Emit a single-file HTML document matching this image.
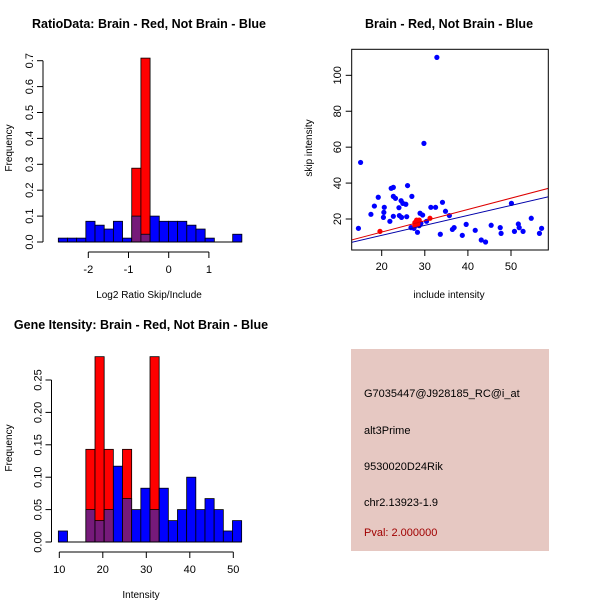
<!DOCTYPE html>
<html><head><meta charset="utf-8"><style>
body{margin:0;background:#fff}
svg{display:block;font-family:"Liberation Sans",Arial,sans-serif}
</style></head><body>
<svg id="chart" width="600" height="600" viewBox="0 0 600 600">
<rect width="600" height="600" fill="#fff"/>
<g id="p1"></g>
<g id="p2"></g>
<g id="p3"></g>
<g id="p4">
<rect x="351" y="349" width="198" height="202" fill="#e6c8c2"/>
<text x="364" y="397" font-size="11" fill="#000">G7035447@J928185_RC@i_at</text>
<text x="364" y="434" font-size="11" fill="#000">alt3Prime</text>
<text x="364" y="470" font-size="11" fill="#000">9530020D24Rik</text>
<text x="364" y="506" font-size="11" fill="#000">chr2.13923-1.9</text>
<text x="364" y="536" font-size="11" fill="#a00000">Pval: 2.000000</text>
</g>
</svg>
<script>
// Panel 1 data
const ratioBreakStart = -2.746, ratioBinWidth = 0.2283;
const ratioBlue = [0.015,0.015,0.015,0.08,0.065,0.05,0.08,0.015,0.1,0.03,0.1,0.08,0.08,0.08,0.065,0.05,0.015,0,0,0.03];
const ratioRed  = [0,0,0,0,0,0,0,0,0.285,0.71,0,0,0,0,0,0,0,0,0,0];
const ratioXTicks = [-2,-1,0,1];
const ratioYTicks = ["0.0","0.1","0.2","0.3","0.4","0.5","0.6","0.7"];
// Panel 3 data
const intBreakStart = 9.78, intBinWidth = 2.107;
const intBlue = [0.017,0,0,0.05,0.033,0.05,0.117,0.067,0.05,0.083,0.05,0.083,0.033,0.05,0.1,0.05,0.067,0.05,0.017,0.033];
const intRed  = [0,0,0,0.143,0.286,0.143,0,0.143,0,0,0.286,0,0,0,0,0,0,0,0,0];
const intXTicks = [10,20,30,40,50];
const intYTicks = ["0.00","0.05","0.10","0.15","0.20","0.25"];
// Panel 2 data
const notBrainX = [14.6,15.1,17.5,18.3,19.2,20.4,20.6,20.5,21.9,22.2,22.7,22.7,23.2,22.7,24.0,24.1,24.5,24.6,24.9,25.6,25.8,26.0,27.0,26.8,27.5,28.3,28.9,29.5,29.8,30.4,28.7,29.1,31.4,32.5,32.8,33.6,34.1,34.8,35.7,36.4,36.8,39.6,38.7,41.7,43.1,44.1,45.4,47.5,47.7,50.1,50.8,51.7,51.9,52.8,54.7,56.6,57.1];
const notBrainY = [14.8,51.5,22.6,27.2,32.1,20.9,26.5,23.7,18.7,37.1,37.6,32.6,31.5,21.5,26.3,21.9,30.2,20.9,28.7,28.2,21.3,38.6,32.6,15.2,14.8,12.6,23.2,22.2,62.1,18.7,16.3,17.6,26.5,26.5,110,11.5,29.3,24.3,21.9,14.2,15.2,17.0,10.9,13.7,8.3,7.2,16.5,15.2,12.0,28.7,13.1,17.2,15.2,13.1,20.4,12.0,14.8];
const brainX = [19.6,27.7,28.1,28.7,27.7,31.2,28.4];
const brainY = [13.1,18.0,19.4,19.4,16.3,20.4,17.2];
const redFit = [0.11,0.63];   // intercept, slope
const blueFit = [-0.23,0.556];
const scatXTicks = [20,30,40,50];
const scatYTicks = [20,40,60,80,100];

const NS="http://www.w3.org/2000/svg";
function mk(parent,tag,attrs,txt){const e=document.createElementNS(NS,tag);for(const k in attrs)e.setAttribute(k,attrs[k]);if(txt!==undefined)e.textContent=txt;parent.appendChild(e);return e;}

function hist(g, o){
  const sx=v=>o.x0px+(v-o.x0)*o.kx, sy=v=>o.y0px-v*o.ky;
  const t=mk(g,'text',{x:o.cx,y:o.ty,'font-size':12.5,'font-weight':'bold','text-anchor':'middle'},o.title);
  
  
  for(let i=0;i<o.blue.length;i++){
    const a=sx(o.start+i*o.w), b=sx(o.start+(i+1)*o.w);
    if(o.red[i]>0){
      const r=mk(g,'rect',{x:a,y:sy(o.red[i]),width:b-a,height:o.red[i]*o.ky,fill:'#ff0000',stroke:'#000','stroke-width':0.8});
      
      
    }
    if(o.blue[i]>0){
      const r=mk(g,'rect',{x:a,y:sy(o.blue[i]),width:b-a,height:o.blue[i]*o.ky,fill:o.red[i]>0?'#761a7a':'#0000ff',stroke:'#000','stroke-width':0.8});
      
      
    }
  }
  mk(g,'line',{x1:sx(o.start),x2:sx(o.start+o.blue.length*o.w),y1:o.y0px,y2:o.y0px,stroke:'#000'});
  // x axis
  const xa=o.xt[0], xb=o.xt[o.xt.length-1], ay=o.y0px+10;
  mk(g,'line',{x1:sx(xa),x2:sx(xb),y1:ay,y2:ay,stroke:'#000'});
  o.xt.forEach(v=>{mk(g,'line',{x1:sx(v),x2:sx(v),y1:ay,y2:ay+6,stroke:'#000'});
    const l=mk(g,'text',{x:sx(v),y:ay+21,'font-size':11,'text-anchor':'middle'},String(v));
    
    });
  // y axis
  const axx=o.axx;
  mk(g,'line',{x1:axx,x2:axx,y1:sy(0),y2:sy(parseFloat(o.yt[o.yt.length-1])),stroke:'#000'});
  o.yt.forEach(s=>{const y=sy(parseFloat(s));mk(g,'line',{x1:axx-6,x2:axx,y1:y,y2:y,stroke:'#000'});
    const l=mk(g,'text',{x:axx-10,y:y,'font-size':11,'text-anchor':'middle',transform:`rotate(-90 ${axx-10} ${y})`},s);
    
    });
  const xl=mk(g,'text',{x:o.cx,y:o.xly,'font-size':10,'text-anchor':'middle'},o.xlab);
  
  
  const yl=mk(g,'text',{x:12,y:o.yly,'font-size':10,'text-anchor':'middle',transform:`rotate(-90 12 ${o.yly})`},'Frequency');
  
  
}

hist(document.getElementById('p1'),{title:'RatioData: Brain - Red, Not Brain - Blue',cx:149,ty:28,
  x0:-2,x0px:88.3,kx:40.2,y0px:242,ky:259,start:ratioBreakStart,w:ratioBinWidth,blue:ratioBlue,red:ratioRed,
  xt:ratioXTicks,yt:ratioYTicks,axx:43,xlab:'Log2 Ratio Skip/Include',xly:298,yly:148});
hist(document.getElementById('p3'),{title:'Gene Itensity: Brain - Red, Not Brain - Blue',cx:141,ty:329,
  x0:10,x0px:59.3,kx:4.35,y0px:542,ky:648,start:intBreakStart,w:intBinWidth,blue:intBlue,red:intRed,
  xt:intXTicks,yt:intYTicks,axx:51.5,xlab:'Intensity',xly:598,yly:448});

// scatter
(function(){
  const g=document.getElementById('p2');
  const sx=v=>381.7+(v-20)*4.31, sy=v=>219-(v-20)*1.796;
  const t=mk(g,'text',{x:449,y:28,'font-size':12.5,'font-weight':'bold','text-anchor':'middle'},'Brain - Red, Not Brain - Blue');
  
  
  mk(g,'defs',{}).innerHTML='<clipPath id="cl"><rect x="351.7" y="49.3" width="196.6" height="200.7"/></clipPath>';
  const fits=mk(g,'g',{'clip-path':'url(#cl)'});
  notBrainX.forEach((x,i)=>{const c=mk(g,'circle',{cx:sx(x),cy:sy(notBrainY[i]),r:2.6,fill:'#0000ff'});
    
    });
  brainX.forEach((x,i)=>{const c=mk(g,'circle',{cx:sx(x),cy:sy(brainY[i]),r:2.6,fill:'#ff0000'});
    
    });
  [[redFit,'#dd0000','brain-fit-line'],[blueFit,'#0000aa','not-brain-fit-line']].forEach(([f,col,n])=>{
    const l=mk(fits,'line',{x1:sx(10),y1:sy(f[0]+f[1]*10),x2:sx(62),y2:sy(f[0]+f[1]*62),stroke:col,'stroke-width':1});
    
    });
  g.appendChild(fits);
  mk(g,'rect',{x:351.7,y:49.3,width:196.6,height:200.7,fill:'none',stroke:'#000'});
  scatXTicks.forEach(v=>{mk(g,'line',{x1:sx(v),x2:sx(v),y1:250,y2:256,stroke:'#000'});
    const l=mk(g,'text',{x:sx(v),y:270,'font-size':11,'text-anchor':'middle'},String(v));
    
    });
  scatYTicks.forEach(v=>{const y=sy(v);mk(g,'line',{x1:345.7,x2:351.7,y1:y,y2:y,stroke:'#000'});
    const l=mk(g,'text',{x:341,y:y,'font-size':11,'text-anchor':'middle',transform:`rotate(-90 341 ${y})`},String(v));
    
    });
  const xl=mk(g,'text',{x:449,y:298,'font-size':10,'text-anchor':'middle'},'include intensity');
  
  
  const yl=mk(g,'text',{x:312,y:148,'font-size':10,'text-anchor':'middle',transform:'rotate(-90 312 148)'},'skip intensity');
  
  
})();
</script>
</body></html>
